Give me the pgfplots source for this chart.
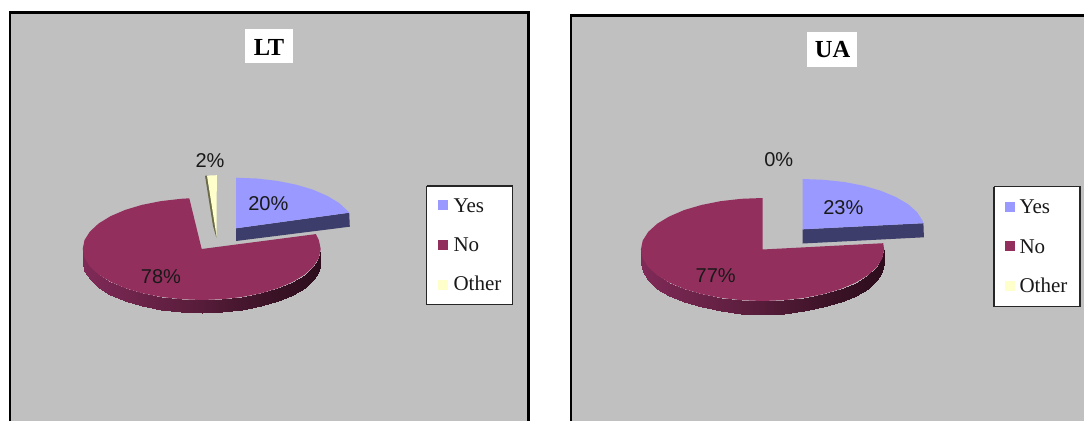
\documentclass[border=0pt]{standalone}
\usepackage{pgfplots}
\usepackage{fontspec}
\pgfplotsset{compat=1.18}
\setmainfont{Liberation Serif}
\newfontfamily\labelfont{Liberation Sans}
\definecolor{panel}{HTML}{C0C0C0}
\definecolor{yes}{HTML}{9999FF}
\definecolor{yesside}{HTML}{3D3D6B}
\definecolor{no}{HTML}{932F5D}
\definecolor{other}{HTML}{FFFFCC}
\definecolor{otherside}{HTML}{6B6B4A}
% filled polygon in image-style coordinates
\newcommand{\poly}[2]{\addplot[fill=#1,draw=none] coordinates {#2} --cycle;}
\newcommand{\outline}[3]{\addplot[draw=#1,line width=#2] coordinates {#3};}
\newcommand{\pct}[3]{\node[anchor=base,inner sep=0pt,font=\labelfont\fontsize{20}{24}\selectfont,text=black!90] at (axis cs:#1,#2) {#3};}
\newcommand{\entry}[3]{\node[anchor=base west,inner sep=0pt,font=\fontsize{21}{25}\selectfont,text=black!90] at (axis cs:#1,#2) {#3};}
\newcommand{\heading}[3]{\node[anchor=base,inner sep=0pt,font=\bfseries\fontsize{24.5}{28}\selectfont] at (axis cs:#1,#2) {#3};}
\begin{document}
\begin{tikzpicture}
\begin{axis}[
  scale only axis, width=1084pt, height=421pt,
  xmin=0, xmax=1084, ymin=0, ymax=421, y dir=reverse,
  axis lines=none, ticks=none,
  colormap={rim}{rgb255(0)=(128,42,88) rgb255(0.5)=(86,28,57) rgb255(0.8)=(58,18,38) rgb255(1)=(44,13,28)},
  point meta min=0, point meta max=1,
]
% page background
\poly{white}{(0,0)(1084,0)(1084,421)(0,421)}
% --- LT panel ---
\poly{panel}{(10,12.2)(528.2,12.2)(528.2,421)(10,421)}
\outline{black}{2.6pt}{(10,421)(10,12.2)(528.2,12.2)(528.2,421)}
\poly{white}{(245.3,29)(292.7,29)(292.7,63.3)(245.3,63.3)}
\heading{269}{55.7}{LT}

% rim of the No slice
\addplot[surf,shader=interp,mesh/rows=2,mesh/cols=19,point meta=explicit]
 table[meta=m] {
x y m
320.7 249.0 1.00
318.9 257.9 0.99
313.5 266.4 0.97
304.8 274.5 0.93
292.9 281.8 0.88
278.2 288.1 0.82
261.2 293.2 0.75
242.4 296.9 0.67
222.4 299.2 0.59
201.7 300.0 0.50
181.0 299.2 0.41
161.0 296.9 0.33
142.2 293.2 0.25
125.2 288.1 0.18
110.5 281.8 0.12
98.6 274.5 0.07
89.9 266.4 0.03
84.5 257.9 0.01
82.7 249.0 0.00
320.7 262.0 1.00
318.9 270.9 0.99
313.5 279.4 0.97
304.8 287.5 0.93
292.9 294.8 0.88
278.2 301.1 0.82
261.2 306.2 0.75
242.4 309.9 0.67
222.4 312.2 0.59
201.7 313.0 0.50
181.0 312.2 0.41
161.0 309.9 0.33
142.2 306.2 0.25
125.2 301.1 0.18
110.5 294.8 0.12
98.6 287.5 0.07
89.9 279.4 0.03
84.5 270.9 0.01
82.7 262.0 0.00
};
% No slice
\poly{no}{(201.7,249)(315.8,234.1)(318.9,240.1)(320.7,249)(318.9,257.9)(313.5,266.4)(304.8,274.5)(292.9,281.8)(278.2,288.1)(261.2,293.2)(242.4,296.9)(222.4,299.2)(201.7,300)(181,299.2)(161,296.9)(142.2,293.2)(125.2,288.1)(110.5,281.8)(98.6,274.5)(89.9,266.4)(84.5,257.9)(82.7,249)(84.5,240.1)(89.9,231.6)(98.6,223.5)(110.5,216.2)(125.2,209.9)(142.2,204.8)(161,201.1)(181,198.8)(189.3,198.3)}
% Yes slice
\poly{yesside}{(236,228.3)(349.2,212.7)(349.8,226.7)(236,241)}
\poly{yes}{(236,228.3)(236,177.7)(256.7,178.5)(276.7,180.8)(295.5,184.5)(312.5,189.5)(327.2,195.8)(339.1,203)(347.8,211)(349.2,212.7)}
% Other slice
\poly{otherside}{(205,175.8)(207.5,175.6)(216.4,232)(216.3,237.5)(213,226)}
\poly{other}{(207,175.6)(216.8,175.2)(216.6,236.5)}

\pct{268.3}{210.7}{20\%}
\pct{161}{283.3}{78\%}
\pct{210}{167.7}{2\%}

% legend
\poly{white}{(426.7,186)(512.7,186)(512.7,304.3)(426.7,304.3)}
\outline{black!85}{1.1pt}{(426.7,186)(512.7,186)(512.7,304.3)(426.7,304.3)(426.7,186)}
\poly{yes}{(437.7,200)(448,200)(448,210)(437.7,210)}
\poly{no}{(437.7,240)(448,240)(448,250)(437.7,250)}
\poly{other}{(437.7,280)(448,280)(448,289.5)(437.7,289.5)}
\entry{453.3}{212.3}{Yes}
\entry{453.3}{251}{No}
\entry{453.3}{290}{Other}

% --- UA panel ---
\poly{panel}{(570.8,15.3)(1084,15.3)(1084,421)(570.8,421)}
\outline{black}{2.6pt}{(570.8,421)(570.8,15.3)(1084,15.3)}
\poly{white}{(807.3,32)(857.3,32)(857.3,66.7)(807.3,66.7)}
\heading{832.5}{57.3}{UA}

% rim of the No slice
\addplot[surf,shader=interp,mesh/rows=2,mesh/cols=19,point meta=explicit]
 table[meta=m] {
x y m
884.1 249.5 1.00
882.3 258.4 0.99
876.8 267.1 0.97
867.8 275.3 0.93
855.6 282.6 0.88
840.7 289.0 0.82
823.3 294.1 0.75
804.1 297.9 0.67
783.6 300.2 0.59
762.5 301.0 0.50
741.4 300.2 0.41
720.9 297.9 0.33
701.7 294.1 0.25
684.3 289.0 0.18
669.4 282.6 0.12
657.2 275.3 0.07
648.2 267.1 0.03
642.7 258.4 0.01
640.9 249.5 0.00
884.1 262.8 1.00
882.3 271.7 0.99
876.8 280.4 0.97
867.8 288.6 0.93
855.6 295.9 0.88
840.7 302.3 0.82
823.3 307.4 0.75
804.1 311.2 0.67
783.6 313.5 0.59
762.5 314.3 0.50
741.4 313.5 0.41
720.9 311.2 0.33
701.7 307.4 0.25
684.3 302.3 0.18
669.4 295.9 0.12
657.2 288.6 0.07
648.2 280.4 0.03
642.7 271.7 0.01
640.9 262.8 0.00
};
% No slice
\poly{no}{(762.5,249.5)(883.2,243.2)(884.1,249.5)(882.3,258.4)(876.8,267.1)(867.8,275.3)(855.6,282.6)(840.7,289)(823.3,294.1)(804.1,297.9)(783.6,300.2)(762.5,301)(741.4,300.2)(720.9,297.9)(701.7,294.1)(684.3,289)(669.4,282.6)(657.2,275.3)(648.2,267.1)(642.7,258.4)(640.9,249.5)(642.7,240.6)(648.2,231.9)(657.2,223.7)(669.4,216.4)(684.3,210)(701.7,204.9)(720.9,201.1)(741.4,198.8)(762.5,198)}
% Yes slice
\poly{yesside}{(802.7,229.3)(923.4,223.2)(923.9,237.3)(802.7,243.5)}
\poly{yes}{(802.7,229.3)(802.7,179)(823.8,179.8)(844.3,182)(863.5,185.7)(880.9,190.8)(895.8,197)(908,204.1)(917,212.1)(922.5,220.6)(923.4,223.2)}

\pct{778.7}{166.7}{0\%}
\pct{843.3}{214.7}{23\%}
\pct{715.7}{282.7}{77\%}

% legend
\poly{white}{(994,186.7)(1080,186.7)(1080,306.7)(994,306.7)}
\outline{black!85}{1.1pt}{(994,186.7)(1080,186.7)(1080,306.7)(994,306.7)(994,186.7)}
\poly{yes}{(1005,202)(1015,202)(1015,212.3)(1005,212.3)}
\poly{no}{(1005,240.7)(1015,240.7)(1015,251.3)(1005,251.3)}
\poly{other}{(1005,280.7)(1015,280.7)(1015,290.7)(1005,290.7)}
\entry{1019.3}{213.3}{Yes}
\entry{1019.3}{253.3}{No}
\entry{1019.3}{292.7}{Other}
\end{axis}
\end{tikzpicture}
\end{document}
